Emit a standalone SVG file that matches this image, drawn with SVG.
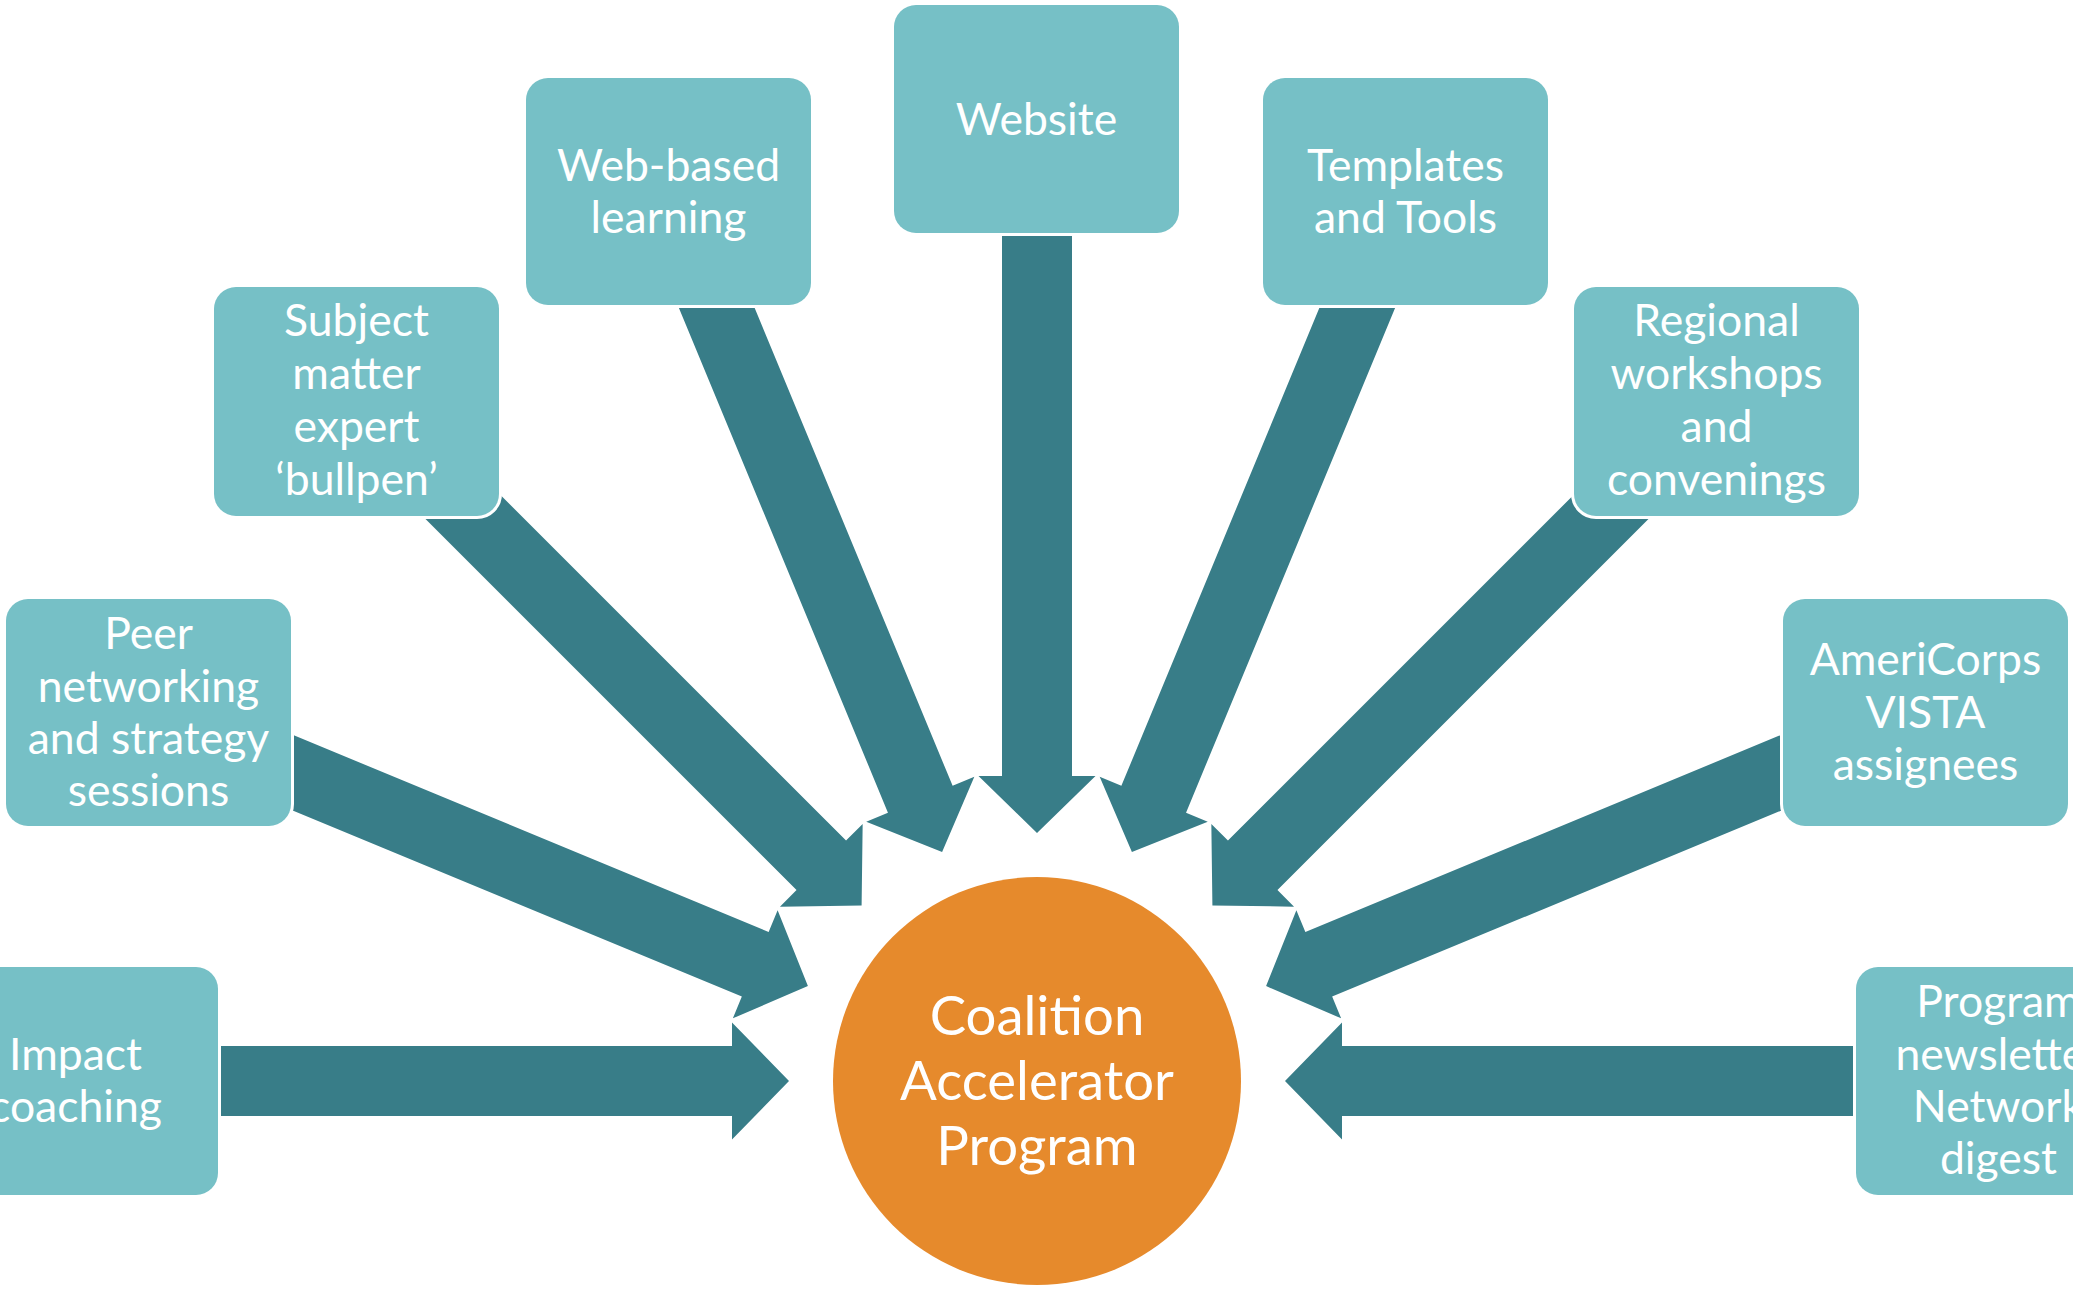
<svg xmlns="http://www.w3.org/2000/svg" xmlns:xlink="http://www.w3.org/1999/xlink" width="2073" height="1289" viewBox="0 0 2073 1289">
<style>
.box{fill:#76C0C6;stroke:#FFFFFF;stroke-width:6;paint-order:stroke}
.arr{fill:#387D88}
.t{font-family:Lato,"Open Sans","Liberation Sans",sans-serif;font-size:44.5px;fill:#FFFFFF;text-anchor:middle}
.c{font-family:Lato,"Open Sans","Liberation Sans",sans-serif;font-size:54.5px;fill:#FFFFFF;text-anchor:middle}
</style>
<defs>
<path id="arrow" class="arr" d="M -700 -35 L -57 -35 L -57 -58.5 L 0 0 L -57 58.5 L -57 35 L -700 35 Z"/>
</defs>
<rect width="2073" height="1289" fill="#FFFFFF"/>
<g id="connectors">
<use href="#arrow" transform="translate(789,1081) rotate(0)"/>
<use href="#arrow" transform="translate(807.9,986.1) rotate(22.5)"/>
<use href="#arrow" transform="translate(861.6,905.6) rotate(45)"/>
<use href="#arrow" transform="translate(942.1,851.9) rotate(67.5)"/>
<use href="#arrow" transform="translate(1037,833) rotate(90)"/>
<use href="#arrow" transform="translate(1131.9,851.9) rotate(112.5)"/>
<use href="#arrow" transform="translate(1212.4,905.6) rotate(135)"/>
<use href="#arrow" transform="translate(1266.1,986.1) rotate(157.5)"/>
<use href="#arrow" transform="translate(1285,1081) rotate(180)"/>
</g>
<g id="node-impact">
<rect class="box" x="-67" y="967" width="285" height="228" rx="22"/>
<text class="t" x="75.5" y="1070">Impact</text>
<text class="t" x="75.5" y="1122">coaching</text>
</g>
<g id="node-peer">
<rect class="box" x="6" y="599" width="285" height="227" rx="22"/>
<text class="t" x="148.5" y="649">Peer</text>
<text class="t" x="148.5" y="702">networking</text>
<text class="t" x="148.5" y="754">and strategy</text>
<text class="t" x="148.5" y="806">sessions</text>
</g>
<g id="node-subject">
<rect class="box" x="214" y="287" width="285" height="229" rx="22"/>
<text class="t" x="356.5" y="336">Subject</text>
<text class="t" x="356.5" y="389">matter</text>
<text class="t" x="356.5" y="442">expert</text>
<text class="t" x="356.5" y="495">‘bullpen’</text>
</g>
<g id="node-web-learning">
<rect class="box" x="526" y="78" width="285" height="227" rx="22"/>
<text class="t" x="668.5" y="181">Web-based</text>
<text class="t" x="668.5" y="233">learning</text>
</g>
<g id="node-website">
<rect class="box" x="894" y="5" width="285" height="228" rx="22"/>
<text class="t" x="1036.5" y="135">Website</text>
</g>
<g id="node-templates">
<rect class="box" x="1263" y="78" width="285" height="227" rx="22"/>
<text class="t" x="1405.5" y="181">Templates</text>
<text class="t" x="1405.5" y="233">and Tools</text>
</g>
<g id="node-regional">
<rect class="box" x="1574" y="287" width="285" height="229" rx="22"/>
<text class="t" x="1716.5" y="336">Regional</text>
<text class="t" x="1716.5" y="389">workshops</text>
<text class="t" x="1716.5" y="442">and</text>
<text class="t" x="1716.5" y="495">convenings</text>
</g>
<g id="node-americorps">
<rect class="box" x="1783" y="599" width="285" height="227" rx="22"/>
<text class="t" x="1925.5" y="675">AmeriCorps</text>
<text class="t" x="1925.5" y="728">VISTA</text>
<text class="t" x="1925.5" y="780">assignees</text>
</g>
<g id="node-newsletter">
<rect class="box" x="1856" y="967" width="285" height="228" rx="22"/>
<text class="t" x="1998.5" y="1017">Program</text>
<text class="t" x="1998.5" y="1070">newsletter</text>
<text class="t" x="1998.5" y="1122">Network</text>
<text class="t" x="1998.5" y="1174">digest</text>
</g>
<g id="node-center">
<circle cx="1037" cy="1081" r="204" fill="#E68A2C"/>
<text class="c" x="1037" y="1035">Coalition</text>
<text class="c" x="1037" y="1100">Accelerator</text>
<text class="c" x="1037" y="1165">Program</text>
</g>
</svg>
